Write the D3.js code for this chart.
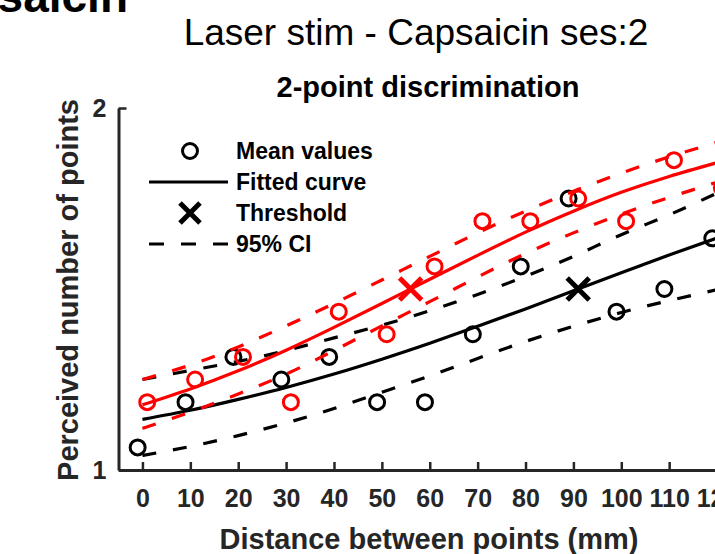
<!DOCTYPE html>
<html>
<head>
<meta charset="utf-8">
<script src="https://cdn.jsdelivr.net/npm/d3@7"></script>
<style>
  body { margin: 0; background: #fff; }
  svg { display: block; font-family: "Liberation Sans", Arial, Helvetica, sans-serif; }
  .tick-label { font-weight: bold; font-size: 25px; fill: #262626; }
  .axis-title { font-weight: bold; font-size: 29px; fill: #262626; }
  .legend-text { font-weight: bold; font-size: 23px; fill: #000; }
</style>
</head>
<body>
<svg width="715" height="554"></svg>
<script>
// distances tested (mm)
const distances = [0, 10, 20, 30, 40, 50, 60, 70, 80, 90, 100, 110, 120];

// mean perceived number of points per distance
const blackMeans = [1.0625, 1.1875, 1.3125, 1.25, 1.3125, 1.1875, 1.1875, 1.375, 1.5625, 1.75, 1.4375, 1.5, 1.64];
const redMeans   = [1.1875, 1.25, 1.3125, 1.1875, 1.4375, 1.375, 1.5625, 1.6875, 1.6875, 1.75, 1.6875, 1.856, 1.78];

// fitted curves and 95% CI at each distance
const curveX   = [0, 10, 20, 30, 40, 50, 60, 70, 80, 90, 100, 110, 120];
const blackFit = [1.140, 1.165, 1.195, 1.228, 1.265, 1.306, 1.350, 1.397, 1.445, 1.495, 1.545, 1.594, 1.641];
const blackLo  = [1.040, 1.065, 1.095, 1.130, 1.170, 1.215, 1.260, 1.308, 1.355, 1.397, 1.435, 1.468, 1.498];
const blackHi  = [1.250, 1.275, 1.300, 1.330, 1.365, 1.400, 1.440, 1.485, 1.535, 1.590, 1.650, 1.705, 1.765];
const redFit   = [1.180, 1.224, 1.274, 1.331, 1.394, 1.460, 1.527, 1.593, 1.657, 1.715, 1.767, 1.811, 1.849];
const redLo    = [1.115, 1.160, 1.210, 1.265, 1.330, 1.398, 1.465, 1.533, 1.598, 1.655, 1.707, 1.753, 1.795];
const redHi    = [1.250, 1.290, 1.340, 1.398, 1.460, 1.525, 1.590, 1.655, 1.715, 1.770, 1.820, 1.865, 1.905];

// thresholds (distance at 1.5 points)
const blackThreshold = 91;
const redThreshold = 56;

const xTicks = [0, 10, 20, 30, 40, 50, 60, 70, 80, 90, 100, 110, 120];
const yTicks = [1, 2];

const svg = d3.select("svg");
const axisColor = "#262626";

const x = d3.scaleLinear().domain([-5, 125]).range([118.5, 741]);
const y = d3.scaleLinear().domain([1, 2]).range([470, 108]);

// titles
svg.append("text")
    .attr("x", 128).attr("y", 12)
    .attr("text-anchor", "end")
    .style("font-weight", "bold").style("font-size", "46px")
    .text("Capsaicin");

svg.append("text")
    .attr("x", 416).attr("y", 45)
    .attr("text-anchor", "middle")
    .style("font-size", "37px")
    .text("Laser stim - Capsaicin ses:2");

svg.append("text")
    .attr("x", 428).attr("y", 97)
    .attr("text-anchor", "middle")
    .style("font-weight", "bold").style("font-size", "29px")
    .text("2-point discrimination");

// axes
const xAxis = svg.append("g")
    .attr("transform", `translate(0,${y(1)})`)
    .call(d3.axisBottom(x).tickValues(xTicks).tickSizeInner(-8).tickSizeOuter(0).tickPadding(19));
xAxis.select(".domain").attr("stroke", axisColor).attr("stroke-width", 3);
xAxis.selectAll(".tick line").attr("stroke", axisColor).attr("stroke-width", 2.5);
xAxis.selectAll(".tick text").attr("class", "tick-label").attr("font-family", null).attr("font-size", null).attr("fill", null);

const yAxis = svg.append("g")
    .attr("transform", `translate(${x(-5)},0)`)
    .call(d3.axisLeft(y).tickValues(yTicks).tickFormat(d3.format("d")).tickSizeInner(-8).tickSizeOuter(0).tickPadding(12));
yAxis.select(".domain").attr("stroke", axisColor).attr("stroke-width", 3);
yAxis.selectAll(".tick line").attr("stroke", axisColor).attr("stroke-width", 2.5);
yAxis.selectAll(".tick text").attr("class", "tick-label").attr("font-family", null).attr("font-size", null).attr("fill", null);

svg.append("text")
    .attr("class", "axis-title")
    .attr("x", 429).attr("y", 549)
    .attr("text-anchor", "middle")
    .text("Distance between points (mm)");

svg.append("text")
    .attr("class", "axis-title")
    .attr("transform", `translate(78,290) rotate(-90)`)
    .attr("text-anchor", "middle")
    .text("Perceived number of points");

// plot
const plot = svg.append("g");
const line = d3.line().x(d => x(d[0])).y(d => y(d[1])).curve(d3.curveNatural);

function cross(g, cx, cy, size, color) {
    const h = size / 2;
    g.append("path")
        .attr("d", `M${cx - h},${cy - h}L${cx + h},${cy + h}M${cx - h},${cy + h}L${cx + h},${cy - h}`)
        .attr("stroke", color).attr("stroke-width", 5).attr("fill", "none");
}

function drawCondition(means, fit, lo, hi, threshold, color, offset) {
    const g = plot.append("g");
    g.selectAll("circle")
        .data(distances.map((d, i) => [d + offset, means[i]]))
        .enter().append("circle")
        .attr("cx", d => x(d[0]))
        .attr("cy", d => y(d[1]))
        .attr("r", 7.5)
        .attr("fill", "none")
        .attr("stroke", color)
        .attr("stroke-width", 3);

    g.append("path")
        .datum(curveX.map((d, i) => [d, fit[i]]))
        .attr("d", line)
        .attr("fill", "none").attr("stroke", color).attr("stroke-width", 3.2);

    cross(g, x(threshold), y(1.5), 22, color);

    [lo, hi].forEach(ci => {
        g.append("path")
            .datum(curveX.map((d, i) => [d, ci[i]]))
            .attr("d", line)
            .attr("fill", "none").attr("stroke", color).attr("stroke-width", 3.2)
            .attr("stroke-dasharray", "14,17");
    });
}

drawCondition(blackMeans, blackFit, blackLo, blackHi, blackThreshold, "#000", -1);
drawCondition(redMeans, redFit, redLo, redHi, redThreshold, "#ff0000", 1);

// legend
const legend = svg.append("g");
const legendRows = ["Mean values", "Fitted curve", "Threshold", "95% CI"];
legendRows.forEach((label, i) => {
    const ly = 151 + i * 31;
    legend.append("text")
        .attr("class", "legend-text")
        .attr("x", 236).attr("y", ly + 8)
        .text(label);
    if (i === 0) {
        legend.append("circle").attr("cx", 190).attr("cy", ly).attr("r", 7.5)
            .attr("fill", "none").attr("stroke", "#000").attr("stroke-width", 3);
    } else if (i === 1) {
        legend.append("line").attr("x1", 149).attr("x2", 228).attr("y1", ly).attr("y2", ly)
            .attr("stroke", "#000").attr("stroke-width", 3);
    } else if (i === 2) {
        cross(legend, 190, ly, 20, "#000");
    } else {
        legend.append("line").attr("x1", 149).attr("x2", 228).attr("y1", ly).attr("y2", ly)
            .attr("stroke", "#000").attr("stroke-width", 3).attr("stroke-dasharray", "15,17");
    }
});
</script>
</body>
</html>
